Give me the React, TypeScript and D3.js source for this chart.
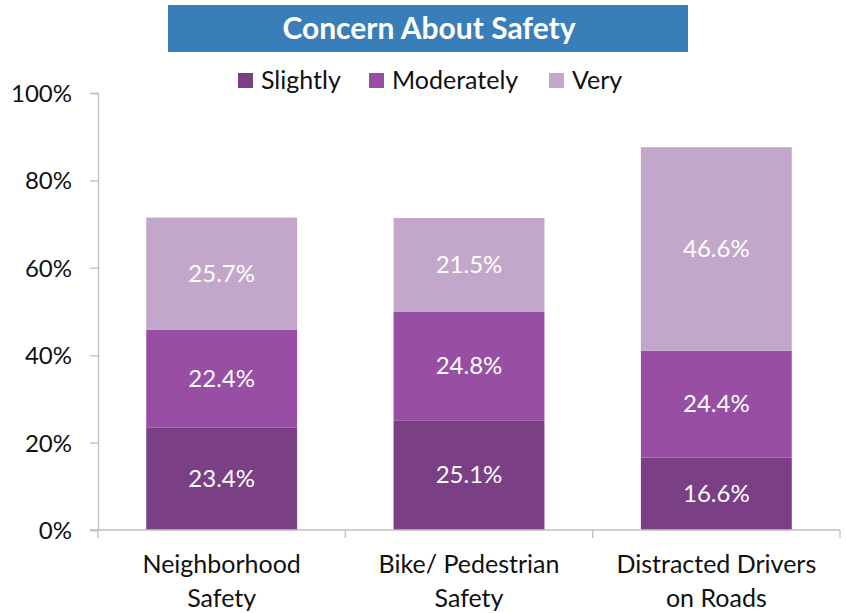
import React, { useEffect, useRef } from "react";
import * as d3 from "d3";

const categories = [["Neighborhood", "Safety"], ["Bike/ Pedestrian", "Safety"], ["Distracted Drivers", "on Roads"]];
const seriesNames = ["Slightly", "Moderately", "Very"];
const slightly = [23.4, 25.1, 16.6];
const moderately = [22.4, 24.8, 24.4];
const very = [25.7, 21.5, 46.6];
const yTicks = [0, 20, 40, 60, 80, 100];
const colors = ["#7b3f86", "#984ea3", "#c3a7ca"];
const font = "Lato, 'Open Sans', sans-serif";

export default function App() {
  const ref = useRef<SVGSVGElement>(null);

  useEffect(() => {
    const width = 846;
    const height = 613;
    const svg = d3.select(ref.current);
    svg.selectAll("*").remove();

    const margin = { top: 93, left: 98, bottom: 83, right: 6 };
    const iheight = height - margin.top - margin.bottom;

    const keys = categories.map((c) => c.join(" "));
    const rows = keys.map((k, i) => ({
      name: k,
      Slightly: slightly[i],
      Moderately: moderately[i],
      Very: very[i],
    }));

    const x = d3.scaleBand().domain(keys).range([margin.left, width - margin.right]).paddingInner(0.39).paddingOuter(0.195);
    const y = d3.scaleLinear().domain([0, 100]).range([margin.top + iheight, margin.top]);

    // title box
    svg.append("rect").attr("x", 168).attr("y", 5).attr("width", 520).attr("height", 47).attr("fill", "#3a7eb9");
    svg.append("text").attr("x", 429).attr("y", 39).attr("text-anchor", "middle")
      .attr("fill", "#fff").attr("font-family", font).attr("font-weight", "bold").attr("font-size", 30)
      .text("Concern About Safety");

    // legend
    const legendX = [238, 369, 549];
    seriesNames.forEach((s, i) => {
      svg.append("rect").attr("x", legendX[i]).attr("y", 73).attr("width", 15).attr("height", 15).attr("fill", colors[i]);
      svg.append("text").attr("x", legendX[i] + 23).attr("y", 89).attr("font-family", font).attr("font-size", 25)
        .attr("fill", "#111").text(s);
    });

    const stack = d3.stack<any>().keys(seriesNames);
    const layers = stack(rows as any);

    const g = svg.append("g");
    layers.forEach((layer, li) => {
      layer.forEach((d: any) => {
        g.append("rect")
          .attr("x", x(d.data.name)!)
          .attr("y", y(d[1]))
          .attr("width", x.bandwidth())
          .attr("height", y(d[0]) - y(d[1]))
          .attr("fill", colors[li]);
        g.append("text")
          .attr("x", x(d.data.name)! + x.bandwidth() / 2)
          .attr("y", (y(d[0]) + y(d[1])) / 2 + 8)
          .attr("text-anchor", "middle")
          .attr("fill", "#fff")
          .attr("font-family", font)
          .attr("font-size", 24)
          .text(d[1] - d[0] > 0 ? `${(d[1] - d[0]).toFixed(1)}%` : "");
      });
    });

    // y axis
    const yAxis = svg.append("g").attr("transform", `translate(${margin.left},0)`)
      .call(d3.axisLeft(y).tickValues(yTicks).tickSize(8).tickFormat((d) => `${d}%`));
    yAxis.select(".domain").attr("stroke", "#bfbfbf").attr("stroke-width", 1.3);
    yAxis.selectAll(".tick line").attr("stroke", "#bfbfbf").attr("stroke-width", 1.3);
    yAxis.selectAll(".tick text").attr("font-family", font).attr("font-size", 24).attr("fill", "#111")
      .attr("x", -26).attr("dy", "0.35em");

    // x axis
    const base = y(0);
    svg.append("line").attr("x1", margin.left - 8).attr("x2", width - margin.right).attr("y1", base).attr("y2", base)
      .attr("stroke", "#bfbfbf").attr("stroke-width", 1.3);
    const step = x.step();
    const bounds = d3.range(keys.length + 1).map((i) => margin.left + i * step);
    bounds.forEach((b) => {
      svg.append("line").attr("x1", b).attr("x2", b).attr("y1", base).attr("y2", base + 8)
        .attr("stroke", "#bfbfbf").attr("stroke-width", 1.3);
    });
    categories.forEach((c, i) => {
      const cx = x(keys[i])! + x.bandwidth() / 2;
      c.forEach((line, j) => {
        svg.append("text").attr("x", cx).attr("y", 573 + j * 34).attr("text-anchor", "middle")
          .attr("font-family", font).attr("font-size", 25).attr("fill", "#111").text(line);
      });
    });
  }, []);

  return (
    <svg ref={ref} width={846} height={613} style={{ position: "absolute", left: 0, top: 0, background: "#fff" }} />
  );
}
